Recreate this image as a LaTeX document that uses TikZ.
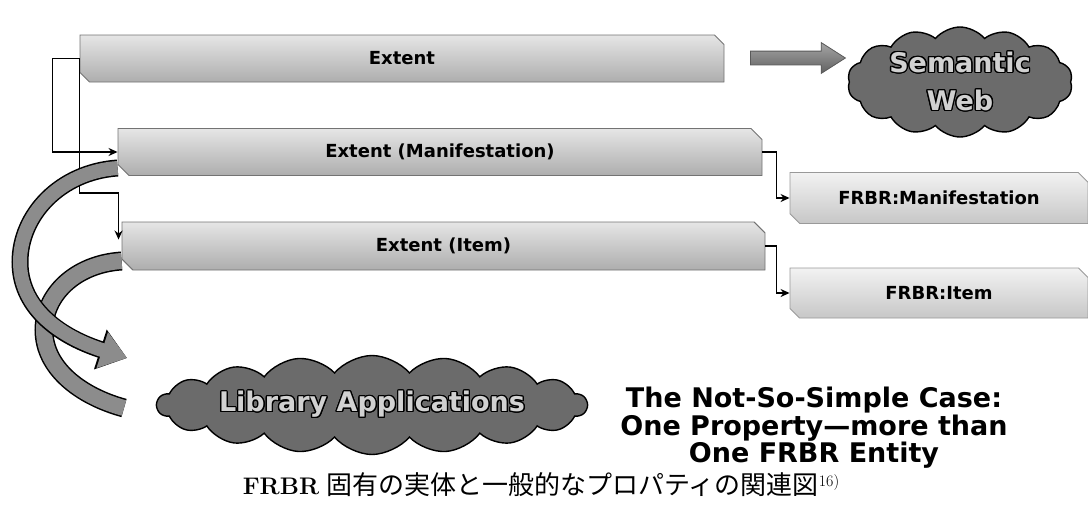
\documentclass[tikz,border=0pt]{standalone}
\usepackage{fontspec}
\setsansfont{DejaVu Sans}
\newfontfamily\cjk{Noto Sans CJK JP}
\usepackage{contour}
\contourlength{1.3pt}
\usetikzlibrary{shapes.misc,shapes.symbols,shapes.arrows,arrows.meta}
\begin{document}
\begin{tikzpicture}[x=1pt,y=-1pt,
  snipbox/.style={chamfered rectangle, chamfered rectangle corners={north east,south west},
    chamfered rectangle xsep=9pt, draw=black!55, line width=0.9pt,
    top color=black!10, bottom color=black!32, inner sep=0pt,
    font=\sffamily\bfseries\fontsize{18}{20}\selectfont},
  snipboxl/.style={snipbox, draw=black!40, top color=black!5, bottom color=black!22},
  conn/.style={draw=black, line width=1.4pt, -{Stealth[length=9pt,width=8pt]}},
  cloudst/.style={cloud, cloud puffs=14, cloud puff arc=100, cloud ignores aspect,
    draw=black, line width=1.4pt, fill=black!58, inner sep=0pt, text=black!18, align=center,
    font=\sffamily\bfseries\fontsize{27}{38}\selectfont},
  bandout/.style={draw=black!45, line width=14pt, -{Triangle[length=26pt,width=36pt]},
    preaction={draw=black, line width=17pt, -{Triangle[length=28pt,width=40pt]}}},
  bandin/.style={draw=black!45, line width=16pt,
    preaction={draw=black, line width=19pt}}
]
\useasboundingbox (0,0) rectangle (1088,506);

% boxes
\node[snipbox, minimum width=644pt, minimum height=47pt] (ext) at (402,58.5) {Extent};
\node[snipbox, minimum width=644pt, minimum height=47pt] (man) at (440,152) {Extent (Manifestation)};
\node[snipbox, minimum width=643pt, minimum height=48pt] (item) at (443.5,246) {Extent (Item)};
\node[snipboxl, minimum width=298pt, minimum height=51pt] (fm) at (939,198) {FRBR:Manifestation};
\node[snipboxl, minimum width=298pt, minimum height=50pt] (fi) at (939,293) {FRBR:Item};

% clouds
\node[cloudst, minimum width=225pt, minimum height=110pt] (sw) at (960,82)
  {\contour{black}{Semantic}\\\contour{black}{Web}};
\node[cloudst, cloud puffs=18, minimum width=430pt, minimum height=99pt] (lib) at (372,405)
  {\contour{black}{Library Applications}};

% big arrow
\node[single arrow, draw=black!65, line width=0.8pt, top color=black!35, bottom color=black!62,
  minimum height=95pt, inner sep=6.5pt, single arrow head extend=8.5pt,
  single arrow tip angle=65] (ba) at (792.5,58) {};

% connectors
\coordinate (itin) at ([xshift=-3pt,yshift=-18pt]item.north west);
\draw[conn] (ext.west) -- ++(-27,0) |- (man.west);
\draw[conn] (ext.west) -- ++(0,134.5) -| (itin);
\draw[conn] (man.east) -- ++(14,0) |- (fm.west);
\draw[conn] (item.east) -- ++(11,0) |- (fi.west);

% curved band arrows
\coordinate (o1) at ([yshift=-16pt]man.west);
\coordinate (t1) at (127,358);
\coordinate (o2) at ([yshift=-15pt]item.west);
\coordinate (t2) at (124,408);
\draw[bandin] (o2) .. controls (75,264) and (44,295) .. (44,330)
  .. controls (44,368) and (80,396) .. (t2);
\draw[bandout] (o1) .. controls (60,172) and (20,215) .. (20,262)
  .. controls (20,305) and (55,335) .. (t1);

% title
\node[font=\sffamily\bfseries\fontsize{27}{27.5}\selectfont, align=center] (ttl) at (814,428)
  {The Not-So-Simple Case:\\One Property—more than\\One FRBR Entity};

% caption
\node (cap) at (541,485) {\fontsize{24}{26}\selectfont\textbf{FRBR} {\cjk\fontsize{26}{27}\selectfont 固有の実体と一般的なプロパティの関連図}\raisebox{8pt}{\fontsize{16}{17}\selectfont 16)}};
\end{tikzpicture}
\end{document}
